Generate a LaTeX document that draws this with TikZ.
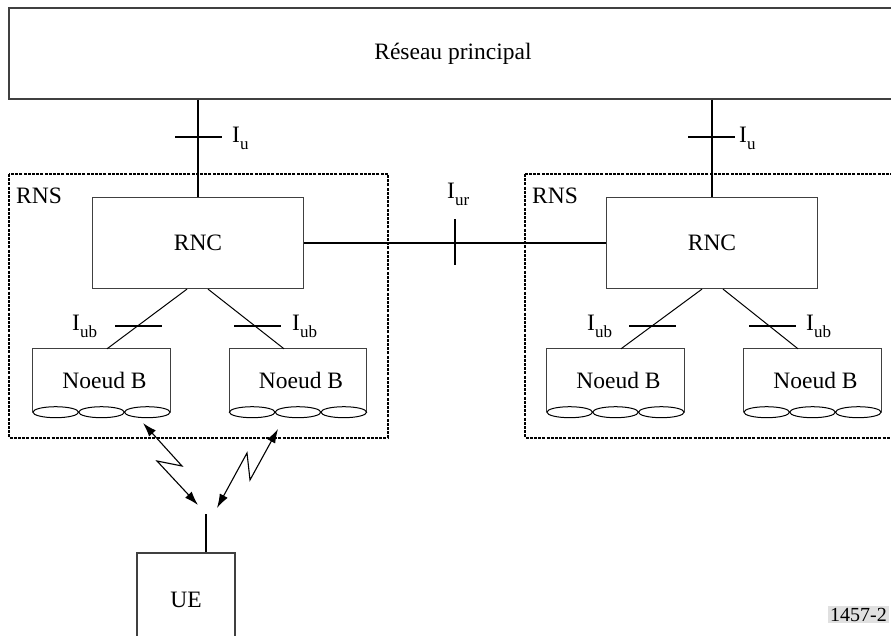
\documentclass[tikz,border=0pt]{standalone}
\usepackage{fontspec}
\setmainfont{Liberation Serif}
\usetikzlibrary{arrows.meta,calc}
\newcommand\Isub[1]{I\raisebox{-7pt}{\fontsize{17}{17}\selectfont #1}}
\tikzset{
  box/.style={draw=black!75, line width=1.2pt, rectangle, inner sep=0pt},
  thick line/.style={line width=1.9pt},
  thin line/.style={line width=1pt},
  nbline/.style={draw=black!75, line width=1.2pt},
  rns/.style={draw, line width=1.5pt, dash pattern=on 3pt off 1.2pt},
  lbl/.style={inner sep=0pt, anchor=base west},
  nb/.style={rectangle, inner sep=0pt, minimum width=137pt, minimum height=63pt},
  radio/.style={line width=1.1pt, {Latex[length=14pt,width=9pt]}-{Latex[length=14pt,width=9pt]}},
}
\begin{document}
\begin{tikzpicture}[x=1pt,y=-1pt,font=\fontsize{23.5}{28}\selectfont]
\useasboundingbox (0,0) rectangle (891,635);
\clip (0,0) rectangle (891,635);
% core network
\node[box, minimum width=888pt, minimum height=91pt] (core) at (453,53.5) {Réseau principal};
% RNS boxes
\draw[rns] (9,174) rectangle (388,438);
\draw[rns] (525,174) rectangle (905,438);
\node[lbl] (rns1) at (16,203) {RNS};
\node[lbl] (rns2) at (532,203) {RNS};
% RNCs
\node[box, minimum width=211pt, minimum height=91pt] (lrnc) at (198,243) {RNC};
\node[box, minimum width=211pt, minimum height=91pt] (rrnc) at (712,243) {RNC};
% Iu
\draw[thick line] (core.south -| lrnc.north) -- (lrnc.north);
\draw[thick line] (core.south -| rrnc.north) -- (rrnc.north);
\draw[thick line] (175,137) -- (222,137);
\draw[thick line] (688,137) -- (735,137);
\node[lbl] (iu1) at (232,142) {\Isub{u}};
\node[lbl] (iu2) at (739,142) {\Isub{u}};
% Iur
\draw[thick line] (lrnc.east) -- (rrnc.west);
\draw[thick line] (455,219) -- (455,265);
\node[lbl] (iur) at (447,198) {\Isub{ur}};
% Node B
\node[nb] (nb1) at (101.5,380.5) {\hspace{6pt}Noeud B};
\node[nb] (nb2) at (298,380.5) {\hspace{6pt}Noeud B};
\node[nb] (nb3) at (615.5,380.5) {\hspace{6pt}Noeud B};
\node[nb] (nb4) at (812.5,380.5) {\hspace{6pt}Noeud B};
\foreach \n in {nb1,nb2,nb3,nb4}{
  \draw[nbline] (\n.south west) -- (\n.north west) -- (\n.north east) -- (\n.south east);
  \foreach \k in {1,3,5}{
    \draw[thin line] ($(\n.south west)!\k/6!(\n.south east)$) ellipse [x radius=22.8pt, y radius=5.5pt];
  }
}
% Iub links
\draw[thin line] ([xshift=-11pt]lrnc.south) -- ([xshift=5.5pt]nb1.north);
\draw[thin line] ([xshift=10pt]lrnc.south) -- ([xshift=-14pt]nb2.north);
\draw[thin line] ([xshift=-10pt]rrnc.south) -- ([xshift=5.5pt]nb3.north);
\draw[thin line] ([xshift=11pt]rrnc.south) -- ([xshift=-14.5pt]nb4.north);
\draw[thick line] (115,326) -- (162,326);
\draw[thick line] (234,326) -- (281,326);
\draw[thick line] (629,326) -- (676,326);
\draw[thick line] (749,326) -- (796,326);
\node[lbl] (iub1) at (72,330) {\Isub{ub}};
\node[lbl] (iub2) at (292,330) {\Isub{ub}};
\node[lbl] (iub3) at (587,330) {\Isub{ub}};
\node[lbl] (iub4) at (806,330) {\Isub{ub}};
% UE
\node[box, minimum width=98pt, minimum height=94pt] (ue) at (186,600) {UE};
\coordinate (ant) at (206,514);
\draw[thick line] (ant) -- (ant |- ue.north);
% radio links
\coordinate (r1a) at (143,423);
\coordinate (r1b) at (198,505);
\coordinate (r2a) at (217,508);
\coordinate (r2b) at (278,429);
\draw[radio] (r1a) -- (182,466) -- (157,461) -- (r1b);
\draw[radio] (r2a) -- (247,453) -- (250,480) -- (r2b);
% figure number
\node[fill=black!12, inner sep=2pt, anchor=base east, font=\fontsize{20}{24}\selectfont] (fig) at (889,621) {1457-2};
\end{tikzpicture}
\end{document}
